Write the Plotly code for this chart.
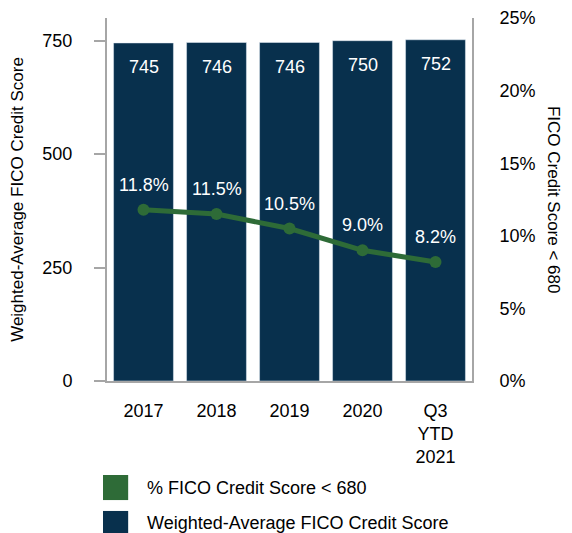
import plotly.graph_objects as go

years = ["2017", "2018", "2019", "2020", "Q3<br>YTD<br>2021"]
avg_fico = [745, 746, 746, 750, 752]
pct_below_680 = [11.8, 11.5, 10.5, 9.0, 8.2]
pct_ticks = [0, 5, 10, 15, 20, 25]

navy = "#08304D"
green = "#2E6B37"
grey = "#A6A6A6"
font = "Arial, Liberation Sans, sans-serif"

fig = go.Figure()
fig.add_trace(go.Bar(
    x=years, y=avg_fico, marker_color=navy, name="Weighted-Average FICO Credit Score",
    showlegend=False, hoverinfo="skip",
))
fig.add_trace(go.Scatter(
    x=years, y=pct_below_680, yaxis="y2", mode="lines+markers",
    line=dict(color=green, width=5), marker=dict(color=green, size=12),
    name="% FICO Credit Score < 680", showlegend=False,
))

# value labels (category axis -> annotations positioned by category index)
for i, v in enumerate(avg_fico):
    fig.add_annotation(x=i, y=v, xref="x", yref="y", text=str(v), showarrow=False,
                       yshift=-24, font=dict(color="white", size=18, family=font))
for i, v in enumerate(pct_below_680):
    fig.add_annotation(x=i, y=v, xref="x", yref="y2", text=f"{v:.1f}%", showarrow=False,
                       yshift=25, font=dict(color="white", size=18, family=font))

# right axis title reads top to bottom
fig.add_annotation(xref="paper", yref="paper", x=1.255, y=0.5, text="FICO Credit Score < 680",
                   textangle=90, showarrow=False, font=dict(size=17, color="black", family=font))

# legend drawn by hand to get the large square swatches
legend_items = [("% FICO Credit Score < 680", green), ("Weighted-Average FICO Credit Score", navy)]
for i, (label, col) in enumerate(legend_items):
    y0 = -0.259 - i * 0.099
    fig.add_shape(type="rect", xref="paper", yref="paper", x0=-0.011, x1=0.058,
                  y0=y0, y1=y0 - 0.069, fillcolor=col, line_width=0)
    fig.add_annotation(xref="paper", yref="paper", x=0.104, y=y0 - 0.0345, text=label,
                       xanchor="left", yanchor="middle", showarrow=False,
                       font=dict(size=18, color="black", family=font))

fig.update_layout(
    width=572, height=533,
    margin=dict(l=99, r=108, t=10, b=160),
    plot_bgcolor="white", paper_bgcolor="white",
    font=dict(family=font, size=18, color="black"),
    bargap=0.18,
    xaxis=dict(type="category", range=[-0.5, 4.5], automargin=False, showline=True,
               linecolor=grey, linewidth=2, ticks="", ticklabelstandoff=12, tickfont=dict(size=18)),
    yaxis=dict(range=[0, 800], tickvals=[0, 250, 500, 750], automargin=False, showgrid=False,
               zeroline=False, showline=True, linecolor=grey, linewidth=2, ticks="outside",
               ticklen=11, tickcolor=grey, tickwidth=2, ticklabelstandoff=18,
               title=dict(text="Weighted-Average FICO Credit Score", font=dict(size=17), standoff=22)),
    yaxis2=dict(range=[0, 25], overlaying="y", side="right", tickvals=pct_ticks,
                ticktext=[f"{t}%" for t in pct_ticks], automargin=False, showgrid=False,
                zeroline=False, showline=True, linecolor=grey, linewidth=2, ticks="",
                ticklabelstandoff=22),
)

fig.write_html("out.html")
